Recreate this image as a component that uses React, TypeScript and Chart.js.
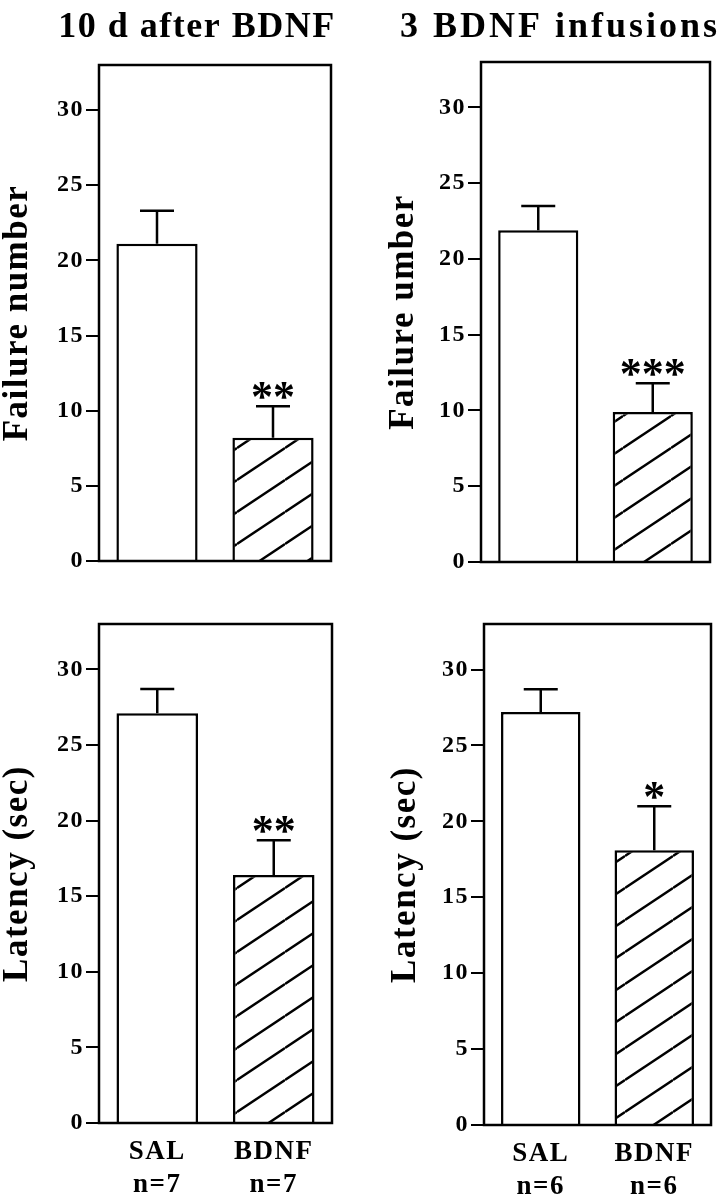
import React, { useEffect, useRef } from 'react';
import { Chart, registerables } from 'chart.js';

Chart.register(...registerables);

// ---- data ----
const categories = ['SAL', 'BDNF'];
const groupSizes10d = ['n=7', 'n=7'];
const groupSizes3inf = ['n=6', 'n=6'];

const failure10d = [21.1, 8.2];
const failure10dErr = [2.2, 2.1];
const failure3inf = [21.9, 9.9];
const failure3infErr = [1.6, 1.9];

const latency10d = [27.1, 16.4];
const latency10dErr = [1.6, 2.3];
const latency3inf = [27.2, 18.1];
const latency3infErr = [1.5, 2.9];

const stars10dFailure = ['', '**'];
const stars3infFailure = ['', '***'];
const stars10dLatency = ['', '**'];
const stars3infLatency = ['', '*'];

const yTickValues = [0, 5, 10, 15, 20, 25, 30];
const yMax = 33;

const FONT = '"Liberation Serif", "Times New Roman", Times, serif';

let hatchCache: CanvasPattern | null = null;
function getHatch(): CanvasPattern | string {
  if (hatchCache) return hatchCache;
  const w = 48, h = 32;
  const c = document.createElement('canvas');
  c.width = w; c.height = h;
  const g = c.getContext('2d');
  if (!g) return '#fff';
  g.fillStyle = '#fff';
  g.fillRect(0, 0, w, h);
  g.strokeStyle = '#000';
  g.lineWidth = 2.4;
  for (const dy of [-h, 0, h]) {
    g.beginPath();
    g.moveTo(0, h + dy);
    g.lineTo(w, dy);
    g.stroke();
  }
  const p = g.createPattern(c, 'repeat');
  hatchCache = p;
  return p || '#fff';
}

type PanelProps = {
  left: number; top: number; width: number; height: number;
  yWidth: number; xHeight: number; padRight: number; padTop: number;
  title?: string; titleX?: number; titleSpacing?: number;
  yTitle: string;
  values: number[]; errors: number[]; stars: string[];
  labels: (string | string[])[]; showLabels: boolean;
};

function Panel(p: PanelProps) {
  const ref = useRef<HTMLCanvasElement>(null);
  useEffect(() => {
    if (!ref.current) return;
    const extras = {
      id: 'extras',
      beforeDraw(chart: any) {
        (chart.ctx as any).letterSpacing = '1.5px';
      },
      afterDatasetsDraw(chart: any) {
        const { ctx, chartArea } = chart;
        const ys = chart.scales.y;
        const meta = chart.getDatasetMeta(0);
        ctx.save();
        ctx.strokeStyle = '#000';
        ctx.fillStyle = '#000';
        ctx.lineWidth = 2.5;
        p.values.forEach((v, i) => {
          const el = meta.data[i];
          const x = el.x;
          const yb = ys.getPixelForValue(v);
          const yt = ys.getPixelForValue(v + p.errors[i]);
          ctx.beginPath();
          ctx.moveTo(x, yb);
          ctx.lineTo(x, yt);
          ctx.moveTo(x - 17, yt);
          ctx.lineTo(x + 17, yt);
          ctx.stroke();
          const s = p.stars[i];
          if (s) {
            (ctx as any).letterSpacing = '0px';
            ctx.font = `bold 44px ${FONT}`;
            ctx.textAlign = 'center';
            ctx.textBaseline = 'alphabetic';
            const m = ctx.measureText('*');
            const asc = m.actualBoundingBoxAscent;
            const desc = m.actualBoundingBoxDescent;
            const targetCenter = yt - 16;
            const baseY = targetCenter - (desc - asc) / 2;
            const n = s.length;
            const gap = 22;
            for (let k = 0; k < n; k++) {
              const sx = x + (k - (n - 1) / 2) * gap;
              ctx.fillText('*', sx, baseY);
            }
          }
        });
        ctx.lineWidth = 2.5;
        ctx.strokeRect(chartArea.left, chartArea.top, chartArea.right - chartArea.left, chartArea.bottom - chartArea.top);
        ctx.restore();
      },
      afterDraw(chart: any) {
        if (!p.title) return;
        const ctx = chart.ctx;
        ctx.save();
        (ctx as any).letterSpacing = `${p.titleSpacing ?? 1.5}px`;
        ctx.font = `bold 36px ${FONT}`;
        ctx.fillStyle = '#000';
        ctx.textAlign = 'center';
        ctx.textBaseline = 'alphabetic';
        ctx.fillText(p.title, p.titleX ?? 0, 37);
        ctx.restore();
      },
    };
    const chart = new Chart(ref.current, {
      type: 'bar',
      data: {
        labels: p.labels as any,
        datasets: [
          {
            data: p.values,
            backgroundColor: ['#ffffff', getHatch() as any],
            borderColor: '#000',
            borderWidth: 2.5,
            barPercentage: 0.7,
            categoryPercentage: 1,
          },
        ],
      },
      options: {
        responsive: false,
        animation: false,
        devicePixelRatio: 1,
        layout: { padding: { left: 0, right: p.padRight, top: p.padTop, bottom: 0 } },
        plugins: {
          legend: { display: false },
          tooltip: { enabled: false },
          title: { display: false },
        },
        scales: {
          x: {
            type: 'category',
            offset: true,
            grid: { display: false, drawTicks: false },
            border: { display: false },
            ticks: {
              display: p.showLabels,
              color: '#000',
              font: { family: FONT, size: 27, weight: 'bold' },
              padding: 13,
              maxRotation: 0,
              autoSkip: false,
            },
            afterFit: (s: any) => { s.height = p.xHeight; },
          },
          y: {
            min: 0,
            max: yMax,
            afterBuildTicks: (s: any) => { s.ticks = yTickValues.map((v) => ({ value: v })); },
            grid: { drawOnChartArea: false, drawTicks: true, tickLength: 13, color: '#000', lineWidth: 2 },
            border: { display: false },
            ticks: {
              color: '#000',
              font: { family: FONT, size: 24, weight: 'bold' },
              padding: 2,
            },
            title: {
              display: true,
              text: p.yTitle,
              color: '#000',
              font: { family: FONT, size: 35, weight: 'bold' },
              padding: { top: 0, bottom: 0 },
            },
            afterFit: (s: any) => { s.width = p.yWidth; },
          },
        },
      },
      plugins: [extras],
    } as any);
    return () => chart.destroy();
  }, []);
  return (
    <canvas
      ref={ref}
      width={p.width}
      height={p.height}
      style={{ position: 'absolute', left: p.left, top: p.top, width: p.width, height: p.height }}
    />
  );
}

export default function App() {
  const bottomLabels10d = categories.map((c, i) => [c, groupSizes10d[i]]);
  const bottomLabels3inf = categories.map((c, i) => [c, groupSizes3inf[i]]);
  return (
    <div style={{ position: 'absolute', left: 0, top: 0, width: 727, height: 1199, background: '#fff', overflow: 'hidden' }}>
      <Panel
        left={-3} top={0} width={396} height={600}
        yWidth={102} xHeight={39} padRight={62} padTop={65}
        title="10 d after BDNF" titleX={200} titleSpacing={1.5}
        yTitle="Failure number"
        values={failure10d} errors={failure10dErr} stars={stars10dFailure}
        labels={categories} showLabels={false}
      />
      <Panel
        left={383} top={0} width={344} height={600}
        yWidth={98} xHeight={38} padRight={17} padTop={62}
        title="3 BDNF infusions" titleX={177} titleSpacing={3}
        yTitle="Failure umber"
        values={failure3inf} errors={failure3infErr} stars={stars3infFailure}
        labels={categories} showLabels={false}
      />
      <Panel
        left={-3} top={600} width={396} height={599}
        yWidth={102} xHeight={76} padRight={61} padTop={24}
        yTitle="Latency (sec)"
        values={latency10d} errors={latency10dErr} stars={stars10dLatency}
        labels={bottomLabels10d} showLabels={true}
      />
      <Panel
        left={385} top={600} width={342} height={599}
        yWidth={99} xHeight={74} padRight={16} padTop={24}
        yTitle="Latency (sec)"
        values={latency3inf} errors={latency3infErr} stars={stars3infLatency}
        labels={bottomLabels3inf} showLabels={true}
      />
    </div>
  );
}
